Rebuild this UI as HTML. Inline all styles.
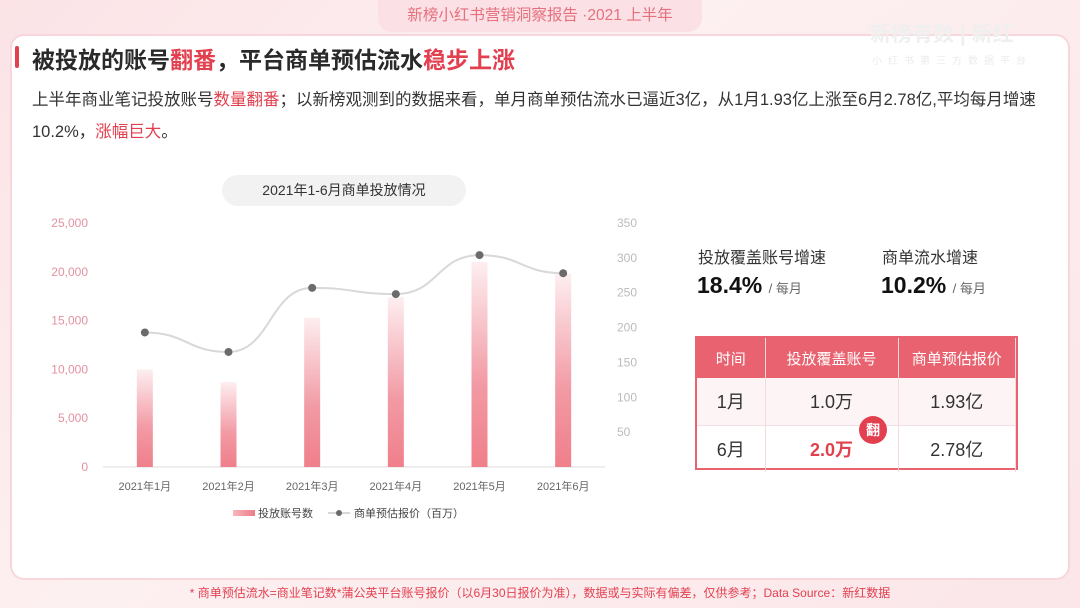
<!DOCTYPE html>
<html><head><meta charset="utf-8">
<style>
*{margin:0;padding:0;box-sizing:border-box}
body{width:1080px;height:608px;overflow:hidden;font-family:"Liberation Sans","Noto Sans CJK SC",sans-serif;background:linear-gradient(135deg,#fbe3e6,#fdf0f1 40%,#fbe6e9);position:relative}
.abs{position:absolute}
.card{left:12px;top:36px;width:1056px;height:542px;background:#fff;border-radius:12px;box-shadow:0 0 0 2px #f8d6db}
.hdr{left:378px;top:0;width:324px;height:32px;background:#fbe1e5;border-radius:0 0 14px 14px;color:#e5707e;font-size:15.5px;text-align:center;line-height:32px}
.title{left:32px;top:41px;font-size:23px;font-weight:bold;color:#2a2a2a}
.red{color:#e2404f}
.desc{left:32px;top:84px;width:1040px;font-size:16.5px;color:#333;line-height:32px}
.bar{left:15px;top:46px;width:4px;height:22px;background:#e2404f;border-radius:2px}
table{border-collapse:collapse;width:100%;height:100%}
td,th{text-align:center;border-right:1px solid #f2d9dc}
th{background:#e9626f;color:#fff;font-weight:normal;font-size:15px;height:40px}
td{font-size:18px;color:#333;height:47px}
tr.r1 td{background:#fdf4f5;border-bottom:1px solid #f2dfe1}
</style></head><body>
<div class="abs card"></div>
<div class="abs hdr">新榜小红书营销洞察报告 ·2021 上半年</div>
<div class="abs" style="left:870px;top:18px;font-size:21px;color:#efefef;font-weight:bold">新榜有数 | 新红</div>
<div class="abs" style="left:872px;top:52px;font-size:10px;color:#ebebeb;letter-spacing:6px">小红书第三方数据平台</div>
<div class="abs bar"></div>
<div class="abs title">被投放的账号<span class="red">翻番</span>，平台商单预估流水<span class="red">稳步上涨</span></div>
<div class="abs desc">上半年商业笔记投放账号<span class="red">数量翻番</span>；以新榜观测到的数据来看，单月商单预估流水已逼近3亿，从1月1.93亿上涨至6月2.78亿,平均每月增速<br>10.2%，<span class="red">涨幅巨大</span>。</div>

<div class="abs" style="left:222px;top:175px;width:244px;height:31px;background:#f2f2f2;border-radius:16px;text-align:center;line-height:31px;font-size:14px;color:#333">2021年1-6月商单投放情况</div>

<svg class="abs" style="left:0;top:0" width="1080" height="608" id="chart">
<defs><linearGradient id="bg" x1="0" y1="0" x2="0" y2="1"><stop offset="0" stop-color="#fdeef0"/><stop offset="0.6" stop-color="#f29aa4"/><stop offset="1" stop-color="#ef7f8b"/></linearGradient>
<linearGradient id="lg" x1="0" y1="0" x2="1" y2="0"><stop offset="0" stop-color="#f6b7be"/><stop offset="1" stop-color="#ee7b88"/></linearGradient></defs>
</svg>

<div class="abs" style="left:698px;top:244px;font-size:16px;color:#333">投放覆盖账号增速</div>
<div class="abs" style="left:697px;top:272px;font-size:23px;font-weight:bold;color:#111">18.4% <span style="font-size:13px;font-weight:normal;color:#666">/ 每月</span></div>
<div class="abs" style="left:882px;top:244px;font-size:16px;color:#333">商单流水增速</div>
<div class="abs" style="left:881px;top:272px;font-size:23px;font-weight:bold;color:#111">10.2% <span style="font-size:13px;font-weight:normal;color:#666">/ 每月</span></div>

<div class="abs" style="left:695px;top:336px;width:323px;height:134px;border:2px solid #e9626f">
<table><tr><th style="width:68px">时间</th><th style="width:133px">投放覆盖账号</th><th>商单预估报价</th></tr>
<tr class="r1"><td>1月</td><td>1.0万</td><td>1.93亿</td></tr>
<tr><td>6月</td><td style="color:#e2404f;font-weight:bold">2.0万</td><td>2.78亿</td></tr></table>
</div>
<div class="abs" style="left:859px;top:416px;width:28px;height:28px;border-radius:50%;background:#e2404f;color:#fff;font-size:14px;text-align:center;line-height:28px;font-weight:bold">翻</div>

<div class="abs" style="left:0;top:584px;width:1080px;text-align:center;font-size:12px;color:#e2404f">* 商单预估流水=商业笔记数*蒲公英平台账号报价（以6月30日报价为准），数据或与实际有偏差，仅供参考；Data Source：新红数据</div>

<script>
const categories=["2021年1月","2021年2月","2021年3月","2021年4月","2021年5月","2021年6月"];
const accounts=[10000,8700,15300,17400,21000,19800];
const revenue=[193,165,257,248,304,278];
const leftTicks=[0,5000,10000,15000,20000,25000];
const rightTicks=[50,100,150,200,250,300,350];
const NS="http://www.w3.org/2000/svg";
const svg=document.getElementById('chart');
const x0=103,x1=605,yb=467,yt=223;
const xc=i=>x0+(x1-x0)/categories.length*(i+0.5);
const yL=v=>yb-(v/25000)*(yb-yt);
const yR=v=>yb-(v/350)*(yb-yt);
function el(t,a){const e=document.createElementNS(NS,t);for(const k in a)e.setAttribute(k,a[k]);svg.appendChild(e);return e;}
let ax=el('line',{x1:x0,x2:x1,y1:yb,y2:yb,stroke:'#ddd'});


leftTicks.forEach(v=>{const t=el('text',{x:88,y:yL(v)+4,'text-anchor':'end','font-size':12,fill:'#e391a0'});t.textContent=v.toLocaleString('en-US');

});
rightTicks.forEach(v=>{const t=el('text',{x:617,y:yR(v)+4,'font-size':12,fill:'#bbb'});t.textContent=v;

});
categories.forEach((c,i)=>{
const r=el('rect',{x:xc(i)-8,y:yL(accounts[i]),width:16,height:yb-yL(accounts[i]),fill:'url(#bg)'});


const t=el('text',{x:xc(i),y:490,'text-anchor':'middle','font-size':11,fill:'#666'});t.textContent=c;


});
const pts=revenue.map((v,i)=>[xc(i),yR(v)]);
let d=`M${pts[0][0]},${pts[0][1]}`;
for(let i=1;i<pts.length;i++){const p=pts[i-1],q=pts[i],m=(q[0]-p[0])/2;d+=` C${p[0]+m},${p[1]} ${q[0]-m},${q[1]} ${q[0]},${q[1]}`;}
const ln=el('path',{d:d,fill:'none',stroke:'#d8d8d8','stroke-width':2});


pts.forEach((p,i)=>{const c=el('circle',{cx:p[0],cy:p[1],r:4,fill:'#6b6b6b'});

});
const lb=el('rect',{x:233,y:510,width:22,height:6,fill:'url(#lg)'});


const lt1=el('text',{x:258,y:517,'font-size':11,fill:'#444'});lt1.textContent='投放账号数';


el('line',{x1:328,x2:350,y1:513,y2:513,stroke:'#ccc','stroke-width':1.5});
const ld=el('circle',{cx:339,cy:513,r:3,fill:'#6b6b6b'});


const lt2=el('text',{x:354,y:517,'font-size':11,fill:'#444'});lt2.textContent='商单预估报价（百万）';


</script>
</body></html>
